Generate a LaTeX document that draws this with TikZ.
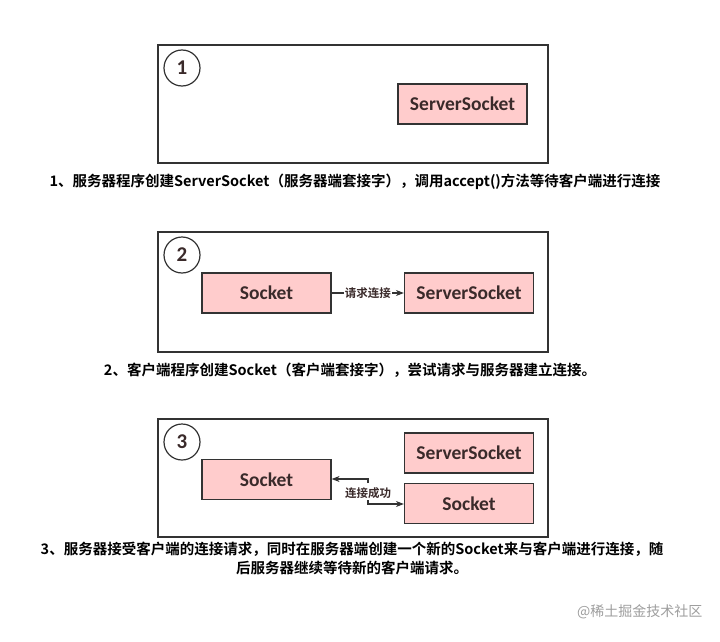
\documentclass[tikz,border=0pt]{standalone}
\usepackage{fontspec}
\setmainfont{Carlito}
\newfontfamily\cjk{Noto Sans CJK SC}
\newfontfamily\cjkb{Noto Sans CJK SC Bold}
\usetikzlibrary{arrows.meta}
\definecolor{boxpink}{HTML}{FFCCCC}
\definecolor{ink}{HTML}{333333}
\definecolor{txt}{HTML}{3A2A2A}
\begin{document}
\begin{tikzpicture}[x=1pt,y=-1pt,
  frame/.style={draw=ink,line width=1.3pt},
  sock/.style={draw=ink,fill=boxpink,line width=1.2pt,minimum width=129pt,minimum height=40pt,inner sep=0pt,font=\fontsize{19.5}{22}\selectfont\bfseries,text=txt},
  num/.style={circle,draw=ink,line width=1.2pt,minimum size=36pt,inner sep=0pt,font=\fontsize{21}{24}\selectfont\bfseries,text=txt},
  captext/.style={font=\cjkb\fontsize{14.5}{19}\selectfont,text=black,align=center},
  lab/.style={font=\cjkb\fontsize{11.5}{13}\selectfont,text=txt,fill=white,inner sep=1pt},
  arr/.style={draw=ink,line width=1.2pt,-{Stealth[length=8pt,width=6pt]}}]
\useasboundingbox (0,0) rectangle (720,642);
\fill[white] (0,0) rectangle (720,642);
% panel 1
\node[frame,minimum width=390pt,minimum height=118pt,inner sep=0pt] (f1) at (353,104) {};
\node[num] (n1) at (182,68) {1};
\node[sock] (ss1) at (462.5,104) {ServerSocket};
\node[captext] (c1) at (355,182) {1、服务器程序创建ServerSocket（服务器端套接字），调用accept()方法等待客户端进行连接};
% panel 2
\node[frame,minimum width=390pt,minimum height=120pt,inner sep=0pt] (f2) at (353,292) {};
\node[num] (n2) at (182,255) {2};
\node[sock] (s2) at (266.5,293) {Socket};
\node[sock] (ss2) at (469,293) {ServerSocket};
\draw[arr] (s2) -- node[lab] (l2) {请求连接} (ss2);
\node[captext] (c2) at (350,370) {2、客户端程序创建Socket（客户端套接字），尝试请求与服务器建立连接。};
% panel 3
\node[frame,minimum width=390pt,minimum height=118pt,inner sep=0pt] (f3) at (353,478) {};
\node[num] (n3) at (182,442) {3};
\node[sock] (ss3) at (469,453) {ServerSocket};
\node[sock] (s3l) at (266.5,479.5) {Socket};
\node[sock] (s3r) at (469,503.5) {Socket};
\coordinate (a1) at (368,483);
\coordinate (a2) at (368,500);
\draw[arr] (a1) -- (368,479) -- (s3l.east |- 0,479);
\draw[arr] (a2) -- (368,504) -- (s3r.west |- 0,504);
\node[font=\cjkb\fontsize{11.5}{13}\selectfont,text=txt,inner sep=0pt] (l3) at (368,493) {连接成功};
\node[captext] (c3) at (352,558.5) {3、服务器接受客户端的连接请求，同时在服务器端创建一个新的Socket来与客户端进行连接，随\\后服务器继续等待新的客户端请求。};
% watermark
\node[font=\cjk\fontsize{14}{16}\selectfont,text=black!38,anchor=east] (wm) at (706,612) {@稀土掘金技术社区};
\end{tikzpicture}
\end{document}
